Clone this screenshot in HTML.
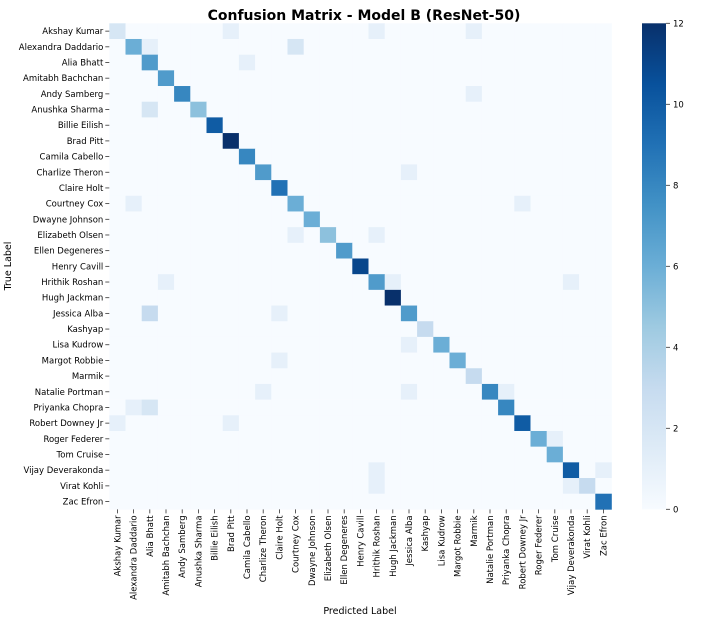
<!DOCTYPE html>
<html><head><meta charset="utf-8"><style>
body{margin:0;background:#fff;font-family:"Liberation Sans","DejaVu Sans",sans-serif}
</style></head><body>
<svg id="c" width="728" height="622" xmlns="http://www.w3.org/2000/svg" font-family="DejaVu Sans, Liberation Sans, sans-serif">
<defs><linearGradient id="g" x1="0" y1="1" x2="0" y2="0">
<stop offset="0" stop-color="#f7fbff"/><stop offset="0.125" stop-color="#deebf7"/><stop offset="0.25" stop-color="#c6dbef"/><stop offset="0.375" stop-color="#9ecae1"/><stop offset="0.5" stop-color="#6baed6"/><stop offset="0.625" stop-color="#4292c6"/><stop offset="0.75" stop-color="#2171b5"/><stop offset="0.875" stop-color="#08519c"/><stop offset="1" stop-color="#08306b"/>
</linearGradient></defs>
<text x="364" y="20" text-anchor="middle" font-size="14" font-weight="bold">Confusion Matrix - Model B (ResNet-50)</text>
<g id="cells"></g><g id="axes"></g>
<text x="360" y="614" text-anchor="middle" font-size="9.5">Predicted Label</text>
<text transform="translate(11,266) rotate(-90)" text-anchor="middle" font-size="9.5">True Label</text>
<rect x="642" y="23.3" width="24" height="486" fill="url(#g)"/>
</svg>
<script>
const labels=["Akshay Kumar","Alexandra Daddario","Alia Bhatt","Amitabh Bachchan","Andy Samberg","Anushka Sharma","Billie Eilish","Brad Pitt","Camila Cabello","Charlize Theron","Claire Holt","Courtney Cox","Dwayne Johnson","Elizabeth Olsen","Ellen Degeneres","Henry Cavill","Hrithik Roshan","Hugh Jackman","Jessica Alba","Kashyap","Lisa Kudrow","Margot Robbie","Marmik","Natalie Portman","Priyanka Chopra","Robert Downey Jr","Roger Federer","Tom Cruise","Vijay Deverakonda","Virat Kohli","Zac Efron"];
const diagonal=[2,6,7,7,8,5,10,12,8,7,9,6,6,5,7,11,7,12,7,3,6,6,3,8,8,10,6,6,10,3,9];
// off-diagonal entries: [row, col, count]
const offDiag=[[0,7,1],[0,16,1],[0,22,1],[1,2,1],[1,11,2],[2,8,1],[4,22,1],[5,2,2],[9,18,1],[11,1,1],[11,25,1],[13,11,1],[13,16,1],[16,3,1],[16,17,1],[16,28,1],[18,2,3],[18,10,1],[20,18,1],[21,10,1],[23,9,1],[23,18,1],[23,24,1],[24,1,1],[24,2,2],[25,0,1],[25,7,1],[26,27,1],[28,16,1],[28,30,1],[29,16,1],[29,28,1]];
const cbTicks=[0,2,4,6,8,10,12];
const vmax=12;
const L=109.3,T=23.3,CW=16.2,CH=15.68,N=labels.length;
const stops=[[247,251,255],[222,235,247],[198,219,239],[158,202,225],[107,174,214],[66,146,198],[33,113,181],[8,81,156],[8,48,107]];
function color(v){let t=Math.max(0,Math.min(1,v/vmax))*8;let i=Math.min(7,Math.floor(t)),f=t-i;const a=stops[i],b=stops[i+1];return `rgb(${a.map((c,k)=>Math.round(c+(b[k]-c)*f)).join(',')})`;}
const xPos=c=>L+c*CW, yPos=r=>T+r*CH;
const NS="http://www.w3.org/2000/svg";
const M=[];for(let r=0;r<N;r++){M.push(new Array(N).fill(0));M[r][r]=diagonal[r];}
offDiag.forEach(([r,c,v])=>{M[r][c]=v;});
const cells=document.getElementById('cells'),axes=document.getElementById('axes');
for(let r=0;r<N;r++)for(let c=0;c<N;c++){
 const e=document.createElementNS(NS,'rect');
 e.setAttribute('x',xPos(c));e.setAttribute('y',yPos(r));e.setAttribute('width',CW+0.3);e.setAttribute('height',CH+0.3);
 e.setAttribute('fill',color(M[r][c]));
 
 
 cells.appendChild(e);}
labels.forEach((l,i)=>{
 const y=yPos(i)+CH/2;
 const t=document.createElementNS(NS,'text');
 t.setAttribute('x',L-6);t.setAttribute('y',y+3);t.setAttribute('text-anchor','end');t.setAttribute('font-size','8.5');t.textContent=l;
 
 
 axes.appendChild(t);
 const k=document.createElementNS(NS,'line');k.setAttribute('x1',L-4);k.setAttribute('x2',L);k.setAttribute('y1',y);k.setAttribute('y2',y);k.setAttribute('stroke','#333');k.setAttribute('stroke-width','0.8');axes.appendChild(k);
 const x=xPos(i)+CW/2;
 const k2=document.createElementNS(NS,'line');k2.setAttribute('x1',x);k2.setAttribute('x2',x);k2.setAttribute('y1',T+N*CH);k2.setAttribute('y2',T+N*CH+4);k2.setAttribute('stroke','#333');k2.setAttribute('stroke-width','0.8');axes.appendChild(k2);
 const t2=document.createElementNS(NS,'text');
 t2.setAttribute('transform',`translate(${x+3},${T+N*CH+6}) rotate(-90)`);t2.setAttribute('text-anchor','end');t2.setAttribute('font-size','8.5');t2.textContent=l;
 
 
 axes.appendChild(t2);
});
cbTicks.forEach(v=>{
 const y=T+486*(1-v/vmax);
 const k=document.createElementNS(NS,'line');k.setAttribute('x1',666);k.setAttribute('x2',670);k.setAttribute('y1',y);k.setAttribute('y2',y);k.setAttribute('stroke','#333');k.setAttribute('stroke-width','0.8');axes.appendChild(k);
 const t=document.createElementNS(NS,'text');t.setAttribute('x',673);t.setAttribute('y',y+3);t.setAttribute('font-size','8.5');t.textContent=v;
 
 
 axes.appendChild(t);
});
</script>
</body></html>
